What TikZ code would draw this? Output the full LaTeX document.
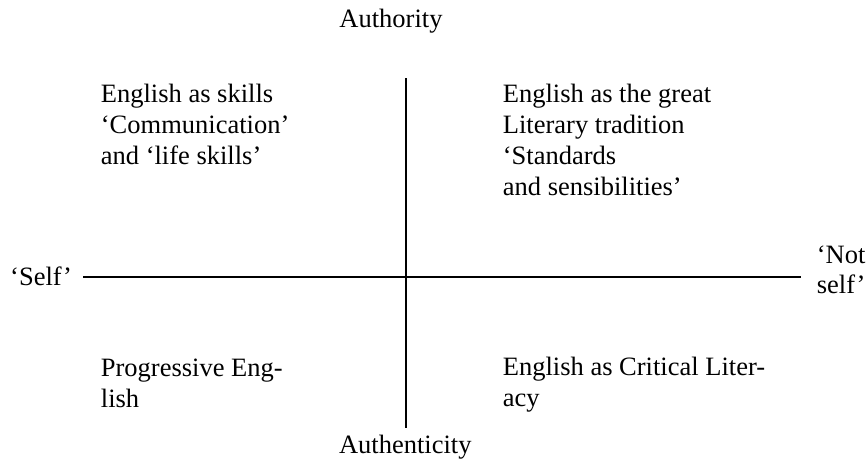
\documentclass[tikz,border=0pt]{standalone}
\usepackage{fontspec}
\setmainfont{Liberation Serif}
\begin{document}
\begin{tikzpicture}[x=1pt,y=-1pt,every node/.style={inner sep=0pt,font=\fontsize{26.5}{31}\selectfont},
		quad/.style={anchor=base west,align=left},axis/.style={line width=2.3pt}]
			\useasboundingbox(0,0)rectangle(866,459);
			\coordinate(top)at(405.7,78);
			\coordinate(bot)at(405.7,428.3);
			\coordinate(lft)at(83.3,276.7);
			\coordinate(rgt)at(800.7,276.7);
			\draw[axis](top)--(bot);
			\draw[axis](lft)--(rgt);
			% base of a multi-line node is its last line
			\node[anchor=base](authority)at(391,27.3){Authority};
			\node[anchor=base](authenticity)at(405.3,453.3){Authenticity};
			\node[anchor=base west](self)at(10,285){‘Self’};
			\node[quad,font=\fontsize{26.5}{30}\selectfont](notself)at(816.7,293.3){‘Not\\self’};
			\node[quad](skills)at(100.7,164.7){English as skills\\‘Communication’\\and ‘life skills’};
			\node[quad](literary)at(502.7,195.7){English as the great\\Literary tradition\\‘Standards\\and sensibilities’};
			\node[quad](progressive)at(100.7,407.7){Progressive Eng-\\lish};
			\node[quad](critical)at(502.7,406.8){English as Critical Liter-\\acy};
		\end{tikzpicture}
\end{document}
